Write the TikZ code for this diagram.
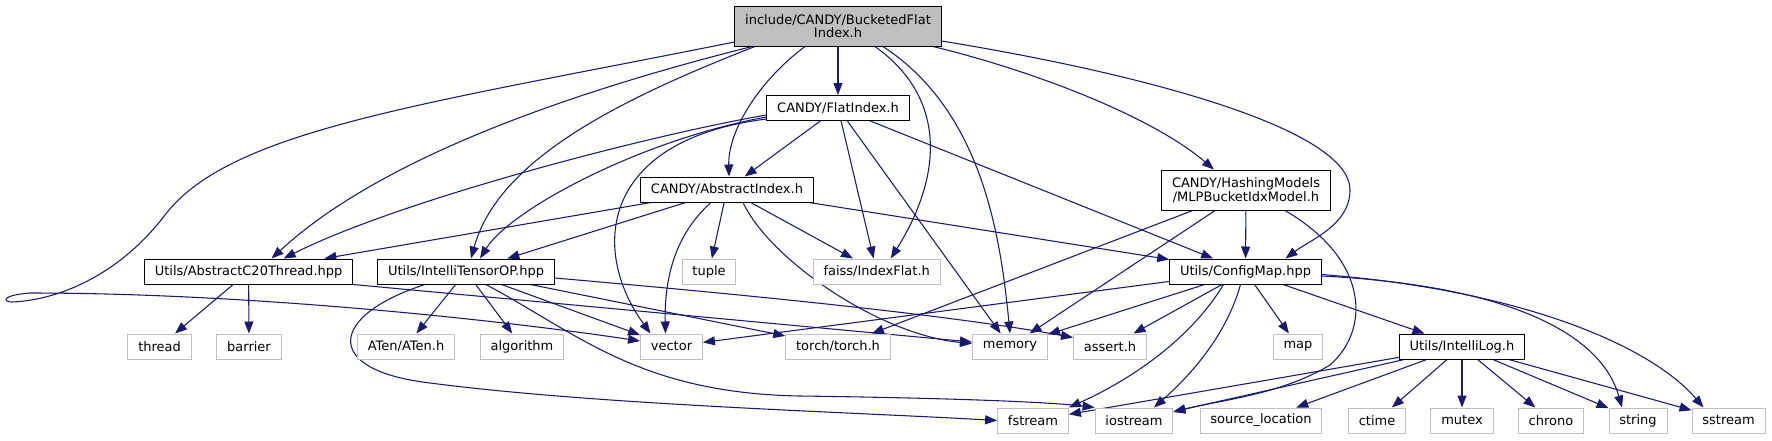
\documentclass[tikz,border=0pt]{standalone}
\usepackage{fontspec}
\setmainfont{DejaVu Sans}
\usepackage{tikz}
\usetikzlibrary{arrows.meta, calc, backgrounds}
\definecolor{edgeblue}{RGB}{25, 25, 112}
\definecolor{extgray}{RGB}{191, 191, 191}

\begin{document}
\begin{tikzpicture}[
    x=0.75pt, y=-0.75pt,
    file/.style={rectangle, draw=#1, fill=white, line width=0.75pt,
                 inner xsep=7.75pt, inner ysep=2pt, minimum height=18.75pt,
                 align=center, font=\fontsize{9.75}{10}\selectfont},
    doc/.style={file=black},
    ext/.style={file=extgray},
    main/.style={file=black, fill=extgray, minimum height=30pt},
    inc/.style={draw=edgeblue, line width=0.8pt, -{Triangle[length=9pt, width=6.75pt]}}
]
    \useasboundingbox (0,0) rectangle (1772,440);

    % Headers of the project
    \node[main] (root) at (838,26) {include/CANDY/BucketedFlat\\Index.h};
    \node[doc] (flat) at (838,108) {CANDY/FlatIndex.h};
    \node[doc] (absidx) at (727,189.5) {CANDY/AbstractIndex.h};
    \node[doc, minimum height=30pt] (mlp) at (1246,190) {CANDY/HashingModels\\/MLPBucketIdxModel.h};
    \node[doc] (c20) at (248.6,271.5) {Utils/AbstractC20Thread.hpp};
    \node[doc] (tensor) at (466,271.5) {Utils/IntelliTensorOP.hpp};
    \node[doc] (cfg) at (1245.5,271.5) {Utils/ConfigMap.hpp};
    \node[doc] (ilog) at (1462,346.5) {Utils/IntelliLog.h};

    % System and library headers
    \node[ext] (tuple) at (709,271.5) {tuple};
    \node[ext] (faiss) at (876.7,271.5) {faiss/IndexFlat.h};
    \node[ext] (thread) at (159.6,346.5) {thread};
    \node[ext] (barrier) at (249,346.5) {barrier};
    \node[ext] (aten) at (406,346.5) {ATen/ATen.h};
    \node[ext] (algo) at (522,346.5) {algorithm};
    \node[ext] (vector) at (671.5,346.5) {vector};
    \node[ext] (torch) at (838,346.5) {torch/torch.h};
    \node[ext] (memory) at (1010,346.5) {memory};
    \node[ext] (assert) at (1110,346.5) {assert.h};
    \node[ext] (map) at (1298,346.5) {map};
    \node[ext] (fstream) at (1033,420.5) {fstream};
    \node[ext] (iostream) at (1134,420.5) {iostream};
    \node[ext] (srcloc) at (1261,420.5) {source\_location};
    \node[ext] (ctime) at (1377,420.5) {ctime};
    \node[ext] (mutex) at (1462,420.5) {mutex};
    \node[ext] (chrono) at (1551,420.5) {chrono};
    \node[ext] (string) at (1638,420.5) {string};
    \node[ext] (sstream) at (1728.5,420.5) {sstream};

    \begin{scope}[on background layer]
    % Includes of BucketedFlatIndex.h
    \draw[inc] (root) -- (flat);
    \draw[inc] ($(root.south)+(-33,0)$) .. controls (760,80) and (728,130) .. ($(absidx.north)+(2,0)$);
    \draw[inc] ($(root.south)+(-86,0)$) .. controls (523,104) and (364,173) .. ($(c20.north)+(23,0)$);
    \draw[inc] ($(root.south)+(-83,0)$) .. controls (615,101) and (498,161) .. ($(tensor.north)+(5,0)$);
    \draw[inc] ($(root.west)+(0,16)$) .. controls (420,105) and (230,130) .. (165,215)
        .. controls (120,274) and (60,300) .. (12,302)
        .. controls (2,302) and (2,295) .. (30,293)
        .. controls (250,293) and (500,320) .. ($(vector.west)+(0,-5.5)$);
    \draw[inc] ($(root.south)+(37,0)$) .. controls (950,100) and (940,180) .. ($(faiss.north)+(14,0)$);
    \draw[inc] ($(root.south)+(45,0)$) .. controls (980,110) and (1000,230) .. (memory.north);
    \draw[inc] ($(root.south)+(95,0)$) .. controls (1030,70) and (1150,115) .. ($(mlp.north)+(-32,0)$);
    \draw[inc] ($(root.east)+(0,15)$) .. controls (1150,75) and (1350,130) .. (1350,190)
        .. controls (1350,225) and (1310,240) .. ($(cfg.north)+(40,0)$);

    % FlatIndex.h
    \draw[inc] (flat) -- (absidx);
    \draw[inc] ($(flat.west)+(0,7)$) .. controls (650,135) and (400,200) .. ($(c20.north)+(35,0)$);
    \draw[inc] ($(flat.west)+(0,9)$) .. controls (640,140) and (510,210) .. ($(tensor.north)+(14,0)$);
    \draw[inc] ($(flat.west)+(0,11)$) .. controls (600,140) and (590,250) .. ($(vector.north)+(-21,0)$);
    \draw[inc] (flat) -- (faiss);
    \draw[inc] (flat) -- (memory);
    \draw[inc] (flat) -- (cfg);

    % AbstractIndex.h
    \draw[inc] (absidx) -- (c20);
    \draw[inc] (absidx) -- (tensor);
    \draw[inc] ($(absidx.south)+(-16,0)$) .. controls (680,230) and (664,270) .. ($(vector.north)+(-6,0)$);
    \draw[inc] (absidx) -- (tuple);
    \draw[inc] (absidx) -- (faiss);
    \draw[inc] ($(absidx.south)+(16,0)$) .. controls (770,260) and (880,335) .. ($(memory.west)+(0,-3)$);
    \draw[inc] (absidx) -- (cfg);

    % MLPBucketIdxModel.h
    \draw[inc] (mlp) -- (torch);
    \draw[inc] (mlp) -- (memory);
    \draw[inc] (mlp) -- (cfg);
    \draw[inc] ($(mlp.south)+(39,0)$) .. controls (1370,260) and (1370,330) .. (1330,365)
        .. controls (1280,395) and (1220,400) .. ($(iostream.east)+(0,-8.5)$);

    % AbstractC20Thread.hpp
    \draw[inc] (c20) -- (thread);
    \draw[inc] (c20) -- (barrier);
    \draw[inc] (c20.south east) -- ($(memory.west)+(0,-4.5)$);

    % IntelliTensorOP.hpp
    \draw[inc] (tensor) -- (aten);
    \draw[inc] (tensor) -- (algo);
    \draw[inc] (tensor) -- (vector);
    \draw[inc] (tensor) -- (torch);
    \draw[inc] ($(tensor.south)+(-41,0)$) .. controls (330,315) and (320,370) .. (430,383)
        .. controls (600,405) and (850,412) .. (fstream.west);
    \draw[inc] ($(tensor.south)+(20,0)$) .. controls (580,335) and (640,393) .. (800,396)
        .. controls (950,398) and (1050,402) .. (iostream.north west);
    \draw[inc] ($(tensor.east)+(0,6.5)$) .. controls (750,295) and (950,315) .. ($(assert.west)+(0,-9)$);

    % ConfigMap.hpp
    \draw[inc] (cfg) -- (vector);
    \draw[inc] (cfg) -- (memory);
    \draw[inc] (cfg) -- (assert);
    \draw[inc] (cfg) -- (map);
    \draw[inc] (cfg) -- (ilog);
    \draw[inc] ($(cfg.south)+(-22,0)$) .. controls (1190,340) and (1130,380) .. (fstream.north east);
    \draw[inc] ($(cfg.south)+(-5,0)$) .. controls (1225,340) and (1185,380) .. ($(iostream.north)+(20,0)$);
    \draw[inc] ($(cfg.east)+(0,4.5)$) .. controls (1500,285) and (1600,330) .. ($(string.north)+(-16,0)$);
    \draw[inc] ($(cfg.east)+(0,3)$) .. controls (1520,290) and (1650,345) .. ($(sstream.north)+(-25,0)$);

    % IntelliLog.h
    \draw[inc] (ilog) -- (fstream);
    \draw[inc] (ilog) -- (iostream);
    \draw[inc] (ilog) -- (srcloc);
    \draw[inc] (ilog) -- (ctime);
    \draw[inc] (ilog) -- (mutex);
    \draw[inc] (ilog) -- (chrono);
    \draw[inc] (ilog) -- (string);
    \draw[inc] (ilog) -- (sstream);
    \end{scope}
\end{tikzpicture}
\end{document}
